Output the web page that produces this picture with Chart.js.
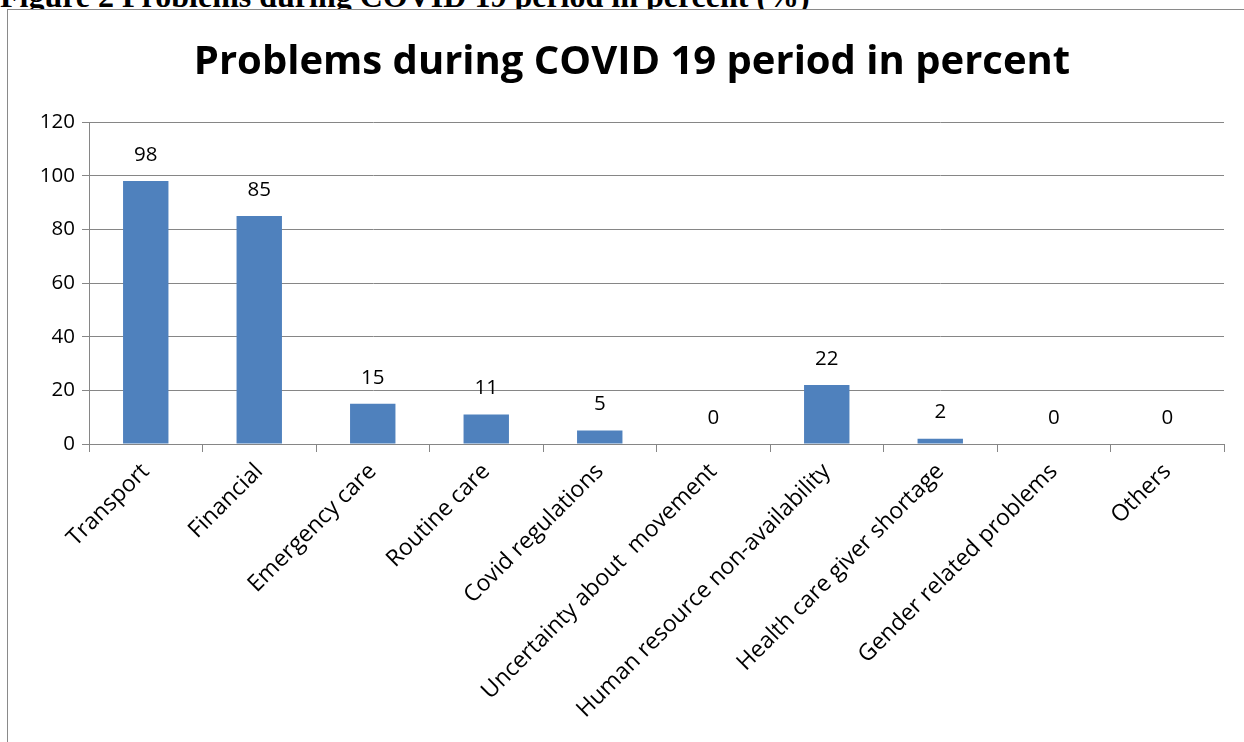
<!DOCTYPE html>
<html>
<head>
<meta charset="utf-8">
<script src="https://cdn.jsdelivr.net/npm/chart.js@4/dist/chart.umd.min.js"></script>
<style>
  html, body { margin: 0; padding: 0; background: #fff; overflow: hidden; }
  body { width: 1244px; height: 742px; position: relative; }
  #caption {
    position: absolute; left: 0; top: -20px;
    font: bold 32px "Liberation Serif", "Times New Roman", serif;
    line-height: 32px; white-space: nowrap; color: #000;
  }
  #frame {
    position: absolute; left: 7px; top: 9px; width: 1260px; height: 760px;
    border-left: 2px solid #8a8a8a; border-top: 2px solid #8a8a8a;
  }
  #wrap { position: absolute; left: 8px; top: 10px; width: 1248px; height: 732px; }
</style>
</head>
<body>
<div id="caption">Figure 2 Problems during COVID 19 period in percent (%)</div>
<div id="frame"></div>
<div id="wrap"><canvas id="chart_problemsCovid"></canvas></div>
<script>
var categories = ['Transport', 'Financial', 'Emergency care', 'Routine care', 'Covid regulations',
    'Uncertainty about  movement', 'Human resource non-availability', 'Health care giver shortage',
    'Gender related problems', 'Others'];
var percentValues = [98, 85, 15, 11, 5, 0, 22, 2, 0, 0];
var yTicks = [0, 20, 40, 60, 80, 100, 120];

var FONT = '"Open Sans", "Liberation Sans", sans-serif';
var GRID = '#868686';

var chart_problemsCovid = new Chart(document.getElementById('chart_problemsCovid'), {
    type: 'bar',
    data: {
        labels: categories,
        datasets: [
            {
                label: 'Problems',
                data: percentValues,
                backgroundColor: '#4f81bd',
                borderWidth: 0,
                barPercentage: 0.4,
                categoryPercentage: 1
            }
        ]
    },
    options: {
        animation: false,
        responsive: true,
        maintainAspectRatio: false,
        layout: {
            padding: { left: 32, right: 32, top: 6, bottom: 0 }
        },
        plugins: {
            legend: { display: false },
            tooltip: { enabled: false },
            title: {
                display: true,
                text: 'Problems during COVID 19 period in percent',
                color: '#000',
                font: { family: FONT, size: 40, weight: 'bold', lineHeight: 1.2 },
                padding: { top: 23, bottom: 35 }
            }
        },
        scales: {
            x: {
                grid: {
                    drawOnChartArea: false,
                    drawTicks: true,
                    tickLength: 8,
                    color: GRID,
                    offset: true
                },
                border: { color: GRID, width: 1 },
                ticks: {
                    color: '#000',
                    font: { family: FONT, size: 23 },
                    minRotation: 45,
                    maxRotation: 45,
                    autoSkip: false,
                    padding: 6
                },
                afterFit: function(scale) { scale.height = 298; }
            },
            y: {
                min: 0,
                max: 120,
                grid: { color: GRID, tickLength: 7 },
                border: { color: GRID, width: 1 },
                ticks: {
                    color: '#000',
                    font: { family: FONT, size: 20.5 },
                    stepSize: 20,
                    padding: 7,
                    callback: function(value) { return yTicks.indexOf(value) >= 0 ? value : ''; }
                },
                afterFit: function(scale) { scale.width = 49; }
            }
        }
    },
    plugins: [{
        id: 'valueLabels',
        afterDatasetsDraw: function(chart) {
            var ctx = chart.ctx;
            var meta = chart.getDatasetMeta(0);
            ctx.save();
            ctx.fillStyle = '#000';
            ctx.font = '20.5px ' + FONT;
            ctx.textAlign = 'center';
            ctx.textBaseline = 'middle';
            meta.data.forEach(function(bar, i) {
                ctx.fillText(String(percentValues[i]), bar.x, bar.y - 26);
            });
            ctx.restore();
        }
    }, {
        id: 'whiteBackground',
        beforeDraw: function(chart) {
            var ctx = chart.canvas.getContext('2d');
            ctx.save();
            ctx.globalCompositeOperation = 'destination-over';
            ctx.fillStyle = 'white';
            ctx.fillRect(0, 0, chart.canvas.width, chart.canvas.height);
            ctx.restore();
        }
    }]
});
</script>
</body>
</html>
